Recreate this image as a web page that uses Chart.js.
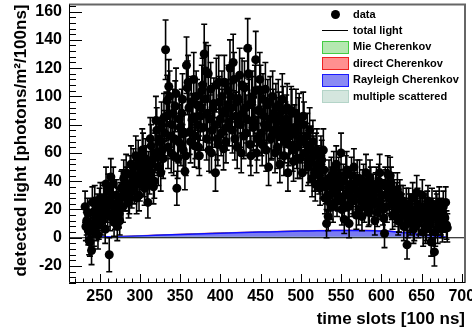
<!DOCTYPE html>
<html><head><meta charset="utf-8">
<script src="https://cdn.jsdelivr.net/npm/chart.js@4"></script>
<style>
html,body{margin:0;padding:0;background:#fff;}
#wrap{position:relative;width:472px;height:336px;overflow:hidden;}
#c{position:absolute;left:0;top:0;}
.leg{position:absolute;font:bold 11px "Liberation Sans",Arial,sans-serif;color:#000;white-space:nowrap;line-height:13px;}
.mk{position:absolute;box-sizing:border-box;}
</style>
</head><body>
<div id="wrap">
<canvas id="c" width="472" height="336"></canvas>
<div id="legend"></div>
</div>
<script>
// ---- data ----
const evenFirstSlot = 232, oddFirstSlot = 233, slotStep = 2;
const detectedEven = [
 22,12,5,-3,-9,18,26,8,2,24,
 15,20,28,38,18,-12,43,30,11,20,
 8,17,28,36,42,30,38,25,45,33,
 50,40,28,55,38,47,60,35,52,25,
 44,65,55,40,83,58,70,46,62,85,
 133,97,107,72,80,58,93,35,68,78,
 88,62,47,122,110,75,96,85,65,100,
 80,58,92,108,130,118,88,62,105,76,
 95,46,70,110,84,100,63,90,78,104,
 120,92,124,70,96,84,115,60,88,106,
 74,134,94,58,100,82,126,70,90,104,
 66,86,105,78,50,96,72,88,60,82,
 94,52,76,90,68,84,46,72,90,62,
 78,88,56,85,68,46,80,60,72,52,
 64,42,58,38,62,50,35,55,62,28,
 10,15,30,44,22,36,52,30,40,60,
 25,13,45,32,10,38,26,50,34,42,
 20,30,15,40,28,35,18,42,26,33,
 12,38,24,46,30,20,3,36,45,28,
 38,16,30,22,34,14,26,20,8,18,
 -5,24,12,20,6,16,32,10,22,14,
 4,20,8,26,12,-3,18,-10,22,6,
 25,12,7,15,25,7
];
const errorsEven = [
 11,10,10,10,10,10,11,10,10,11,
 10,11,11,12,10,12,13,11,10,11,
 10,10,11,12,13,11,12,11,13,12,
 13,12,11,14,12,13,14,12,13,11,
 13,15,14,12,17,14,15,13,15,17,
 21,18,19,16,16,14,18,12,15,16,
 17,15,13,20,19,16,18,17,15,18,
 16,14,17,19,21,20,17,15,19,16,
 18,13,15,19,17,18,15,17,16,18,
 20,17,20,15,18,17,19,14,17,19,
 16,21,18,14,18,17,20,15,17,18,
 15,17,19,16,13,18,16,17,14,17,
 18,13,16,17,15,17,13,16,17,15,
 16,17,14,17,15,13,16,14,16,13,
 15,13,14,12,15,13,12,14,15,11,
 10,10,11,13,11,12,13,11,12,14,
 11,10,13,12,10,12,11,13,12,13,
 11,11,10,12,11,12,10,13,11,12,
 10,12,11,13,11,11,10,12,13,11,
 12,10,11,11,12,10,11,11,10,10,
 10,11,10,11,10,10,12,10,11,10,
 10,11,10,11,10,10,10,10,11,10,
 11,10,10,10,11,10
];
const detectedOdd = [
 8,18,-2,10,25,4,14,20,9,28,
 12,26,6,22,33,15,25,38,16,30,
 24,12,35,22,30,46,34,28,52,40,
 36,58,44,30,50,62,42,56,38,48,
 70,52,36,60,76,50,68,80,56,74,
 86,64,100,60,88,70,102,56,84,66,
 98,74,58,106,92,68,84,112,72,94,
 64,86,104,78,98,70,116,84,60,92,
 80,108,66,96,74,88,110,68,94,82,
 100,76,112,86,64,98,80,108,72,92,
 84,116,66,96,78,104,60,90,112,74,
 98,80,62,94,84,70,100,76,92,64,
 86,72,98,58,80,92,66,76,88,54,
 74,64,82,56,70,86,60,66,50,76,
 56,68,46,60,52,44,58,40,48,36,
 30,42,24,38,48,32,26,44,36,20,
 40,30,48,22,34,44,28,38,16,32,
 42,26,36,22,46,30,20,38,28,24,
 34,18,40,26,30,14,38,22,32,44,
 24,34,18,28,12,30,20,26,16,24,
 10,20,14,28,8,18,24,12,20,30,
 16,6,22,14,10,24,16,4,20,12,
 18,10,22,14,9
];
const errorsOdd = [
 10,10,10,10,11,10,10,11,10,11,
 10,11,10,11,12,10,11,12,10,11,
 11,10,12,11,11,13,12,11,13,12,
 12,14,13,11,13,15,13,14,12,13,
 15,13,12,14,16,13,15,16,14,16,
 17,15,18,14,17,15,18,14,17,15,
 18,16,14,19,17,15,17,19,16,18,
 15,17,18,16,18,15,20,17,14,17,
 16,19,15,18,16,17,19,15,18,17,
 18,16,19,17,15,18,16,19,16,17,
 17,20,15,18,16,18,14,17,19,16,
 18,16,15,18,17,15,18,16,17,15,
 17,16,18,14,16,17,15,16,17,14,
 16,15,17,14,15,17,14,15,13,16,
 14,15,13,14,13,13,14,12,13,12,
 11,13,11,12,13,12,11,13,12,11,
 12,11,13,11,12,13,11,12,10,12,
 13,11,12,11,13,11,11,12,11,11,
 12,10,12,11,11,10,12,11,12,13,
 11,12,10,11,10,11,11,11,10,11,
 10,11,10,11,10,10,11,10,11,11,
 10,10,11,10,10,11,10,10,11,10,
 10,10,11,10,10
];
const compSlots = [232,250,270,290,310,330,350,370,390,410,430,450,470,490,510,530,550,570,590,610,630,650,670,682];
const multipleScattered = [0.1,0.2,0.3,0.3,0.4,0.4,0.4,0.4,0.4,0.4,0.4,0.4,0.4,0.4,0.4,0.4,0.4,0.4,0.4,0.4,0.3,0.3,0.2,0.1];
const rayleighCherenkov = [0.1,0.3,0.5,0.8,1.1,1.5,1.9,2.3,2.7,3.0,3.3,3.6,3.9,4.2,4.4,4.6,4.7,4.7,4.6,4.2,3.2,2.0,1.0,0.2];
const mieCherenkov = [0.0,0.0,0.05,0.05,0.05,0.05,0.05,0.05,0.05,0.05,0.05,0.05,0.05,0.05,0.05,0.05,0.05,0.05,0.05,0.05,0.05,0.05,0.0,0.0];
const directCherenkov = [0.0,0.1,0.1,0.15,0.2,0.2,0.2,0.2,0.2,0.2,0.2,0.2,0.2,0.2,0.2,0.2,0.2,0.2,0.2,0.15,0.1,0.1,0.05,0.0];
const totalLightSlots = [212, 704];
const totalLight = [0, 0];
const xTicks = [250,300,350,400,450,500,550,600,650,700];
const yTicks = [-20,0,20,40,60,80,100,120,140,160];

// ---- build ----
const pts = [];
const errs = [];
detectedEven.forEach((v, i) => { pts.push({x: evenFirstSlot + i * slotStep, y: v}); errs.push(errorsEven[i]); });
detectedOdd.forEach((v, i) => { pts.push({x: oddFirstSlot + i * slotStep, y: v}); errs.push(errorsOdd[i]); });
let acc = compSlots.map(() => 0);
function stackUp(arr){ acc = acc.map((a, i) => a + arr[i]); return compSlots.map((s, i) => ({x: s, y: acc[i]})); }
const stMulti = stackUp(multipleScattered);
const stRay = stackUp(rayleighCherenkov);
const stMie = stackUp(mieCherenkov);
const stDirect = stackUp(directCherenkov);

const FONT = 'Liberation Sans, Arial, sans-serif';

const rootAxes = {
  id: 'rootAxes',
  beforeDatasetDraw(chart, args) {
    if (args.index !== 0) return;
    const ctx = chart.ctx, xs = chart.scales.x, ys = chart.scales.y;
    ctx.save();
    ctx.strokeStyle = '#000';
    ctx.lineWidth = 1.6;
    pts.forEach((p, i) => {
      const e = errs[i]; if (e == null) return;
      const px = xs.getPixelForValue(p.x);
      const y1 = ys.getPixelForValue(p.y + e), y2 = ys.getPixelForValue(p.y - e);
      ctx.beginPath();
      ctx.moveTo(px, y1); ctx.lineTo(px, y2);
      ctx.moveTo(px - 3, y1); ctx.lineTo(px + 3, y1);
      ctx.moveTo(px - 3, y2); ctx.lineTo(px + 3, y2);
      ctx.stroke();
    });
    ctx.restore();
  },
  afterDraw(chart) {
    const ctx = chart.ctx, a = chart.chartArea, xs = chart.scales.x, ys = chart.scales.y;
    ctx.save();
    ctx.strokeStyle = '#666'; ctx.lineWidth = 2;
    ctx.beginPath(); ctx.moveTo(a.left, a.top); ctx.lineTo(a.right, a.top); ctx.lineTo(a.right, a.bottom); ctx.stroke();
    ctx.strokeStyle = '#000'; ctx.lineWidth = 1;
    ctx.beginPath(); ctx.moveTo(a.left + 0.5, a.top); ctx.lineTo(a.left + 0.5, a.bottom - 0.5); ctx.lineTo(a.right, a.bottom - 0.5); ctx.stroke();
    ctx.beginPath();
    for (let v = Math.ceil(ys.min / 4) * 4; v <= ys.max; v += 4) {
      const py = Math.round(ys.getPixelForValue(v)) + 0.5;
      const len = (v % 20 === 0) ? 13 : 7;
      ctx.moveTo(a.left, py); ctx.lineTo(a.left + len, py);
    }
    for (let v = Math.ceil(xs.min / 10) * 10; v <= xs.max; v += 10) {
      const px = Math.round(xs.getPixelForValue(v)) + 0.5;
      const len = (v % 50 === 0) ? 9 : 4.5;
      ctx.moveTo(px, a.bottom); ctx.lineTo(px, a.bottom - len);
    }
    ctx.stroke();
    ctx.restore();
  }
};

new Chart(document.getElementById('c'), {
  type: 'line',
  data: {
    datasets: [
      { label: 'data', type: 'scatter', data: pts, pointRadius: 4.5, pointHoverRadius: 4.5,
        pointBackgroundColor: '#000', pointBorderColor: '#000', pointBorderWidth: 0, showLine: false },
      { label: 'total light', data: totalLightSlots.map((s, i) => ({x: s, y: totalLight[i]})),
        borderColor: '#000', borderWidth: 1, pointRadius: 0, fill: false },
      { label: 'multiple scattered', data: stMulti, borderColor: '#a8cfc0', borderWidth: 1,
        backgroundColor: 'rgba(190,220,210,0.9)', pointRadius: 0, fill: 'origin', tension: 0.3 },
      { label: 'Rayleigh Cherenkov', data: stRay, borderColor: '#1010ff', borderWidth: 1.5,
        backgroundColor: 'rgba(100,100,240,0.85)', pointRadius: 0, fill: '-1', tension: 0.3 },
      { label: 'Mie Cherenkov', data: stMie, borderColor: '#30c030', borderWidth: 0.5,
        backgroundColor: 'rgba(120,220,120,0.8)', pointRadius: 0, fill: '-1', tension: 0.3 },
      { label: 'direct Cherenkov', data: stDirect, borderColor: '#e03030', borderWidth: 0.8,
        backgroundColor: 'rgba(255,110,110,0.8)', pointRadius: 0, fill: '-1', tension: 0.3 }
    ]
  },
  options: {
    responsive: false, animation: false, devicePixelRatio: 1,
    layout: { padding: { top: 4, right: 7, left: 0, bottom: 0 } },
    plugins: { legend: { display: false }, tooltip: { enabled: false } },
    scales: {
      x: { type: 'linear', min: 212, max: 704,
        afterFit(s) { s.height = 53; s.paddingLeft = 0; s.paddingRight = 0; },
        afterBuildTicks(s) { s.ticks = xTicks.map(v => ({value: v})); },
        grid: { display: false, drawTicks: false }, border: { display: false },
        ticks: { padding: 4, color: '#000', font: { family: FONT, weight: 'bold', size: 16 }, maxRotation: 0, autoSkip: false },
        title: { display: true, text: 'time slots [100 ns]', align: 'end', color: '#000',
          font: { family: FONT, weight: 'bold', size: 17 }, padding: { top: 0, bottom: 6 } } },
      y: { type: 'linear', min: -32, max: 165,
        afterFit(s) { s.width = 69; s.paddingTop = 0; s.paddingBottom = 0; },
        afterBuildTicks(s) { s.ticks = yTicks.map(v => ({value: v})); },
        grid: { display: false, drawTicks: false }, border: { display: false },
        ticks: { padding: 7, color: '#000', font: { family: FONT, weight: 'bold', size: 16 }, autoSkip: false },
        title: { display: true, text: 'detected light [photons/m²/100ns]', align: 'end', color: '#000',
          font: { family: FONT, weight: 'bold', size: 17 }, padding: { top: 11, bottom: 0 } } }
    }
  },
  plugins: [rootAxes]
});

// ---- legend (HTML text) ----
const legendItems = [
  { text: 'data', kind: 'dot' },
  { text: 'total light', kind: 'line' },
  { text: 'Mie Cherenkov', kind: 'box', border: '#44cc44', fill: '#b4e8b0' },
  { text: 'direct Cherenkov', kind: 'box', border: '#ee2222', fill: '#ff9090' },
  { text: 'Rayleigh Cherenkov', kind: 'box', border: '#1a1aff', fill: '#8a8af4' },
  { text: 'multiple scattered', kind: 'box', border: '#b4d4c8', fill: '#d4e6de' }
];
const legEl = document.getElementById('legend');
legendItems.forEach((it, i) => {
  const cy = 14 + i * 16.4;
  const m = document.createElement('div');
  m.className = 'mk';
  if (it.kind === 'dot') {
    Object.assign(m.style, { left: '331px', top: (cy - 4.5) + 'px', width: '9px', height: '9px', borderRadius: '50%', background: '#000' });
  } else if (it.kind === 'line') {
    Object.assign(m.style, { left: '322px', top: (cy - 0.5) + 'px', width: '26px', height: '1px', background: '#000' });
  } else {
    Object.assign(m.style, { left: '322px', top: (cy - 6) + 'px', width: '27px', height: '13px', background: it.fill, border: '1.5px solid ' + it.border });
  }
  legEl.appendChild(m);
  const t = document.createElement('div');
  t.className = 'leg';
  t.textContent = it.text;
  Object.assign(t.style, { left: '353px', top: (cy - 6.5) + 'px' });
  legEl.appendChild(t);
});
</script>
</body></html>
